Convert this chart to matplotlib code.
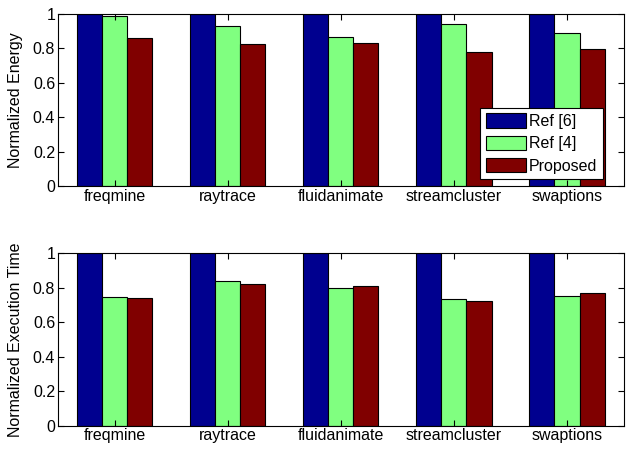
import matplotlib
matplotlib.use("Agg")
import matplotlib.pyplot as plt
import numpy as np

plt.rcParams['font.family'] = ['Liberation Sans', 'DejaVu Sans']

categories = ["freqmine", "raytrace", "fluidanimate", "streamcluster", "swaptions"]
series_names = ["Ref [6]", "Ref [4]", "Proposed"]
energy_ref6 = [1.0, 1.0, 1.0, 1.0, 1.0]
energy_ref4 = [0.99, 0.928, 0.864, 0.94, 0.888]
energy_prop = [0.862, 0.827, 0.833, 0.781, 0.798]
time_ref6 = [1.0, 1.0, 1.0, 1.0, 1.0]
time_ref4 = [0.746, 0.841, 0.801, 0.735, 0.75]
time_prop = [0.743, 0.822, 0.812, 0.721, 0.768]
yticks = [0, 0.2, 0.4, 0.6, 0.8, 1]
ytick_labels = ["0", "0.2", "0.4", "0.6", "0.8", "1"]

colors = [(0, 0, 0.5625), (0.5, 1, 0.5), (0.5, 0, 0)]
FS = 11.5

fig = plt.figure(figsize=(6.34, 4.5), dpi=100)
W, H = 634, 450
ax1 = fig.add_axes([58 / W, 1 - 186 / H, (623.5 - 58) / W, (186 - 14) / H])
ax2 = fig.add_axes([58 / W, 1 - 425.7 / H, (623.5 - 58) / W, (425.7 - 253.3) / H])

x = np.arange(1, len(categories) + 1)
bw = 0.222
offsets = [-bw, 0, bw]

def draw(ax, data, ylabel, legend=False):
    for i, vals in enumerate(data):
        ax.bar(x + offsets[i], vals, width=bw, color=colors[i], edgecolor='black',
               linewidth=0.8, label=series_names[i])
    ax.set_xlim(0.5, 5.5)
    ax.set_ylim(0, 1)
    ax.set_xticks(x)
    ax.set_xticklabels(categories, fontsize=FS)
    ax.set_yticks(yticks)
    ax.set_yticklabels(ytick_labels, fontsize=FS)
    ax.set_ylabel(ylabel, fontsize=FS)
    ax.tick_params(direction='in', top=True, right=True, length=4, width=0.8, pad=2)
    for s in ax.spines.values():
        s.set_linewidth(0.8)
    if legend:
        leg = ax.legend(loc='lower right', bbox_to_anchor=(0.9637, 0.04), fontsize=FS,
                        frameon=True, fancybox=False, edgecolor='black', framealpha=1,
                        handlelength=2.5, handleheight=1.0, handletextpad=0.2,
                        borderpad=0.35, labelspacing=0.42, borderaxespad=0)
        leg.get_frame().set_linewidth(0.8)

draw(ax1, [energy_ref6, energy_ref4, energy_prop], "Normalized Energy", legend=True)
draw(ax2, [time_ref6, time_ref4, time_prop], "Normalized Execution Time")
ax1.yaxis.set_label_coords(-0.062, 0.5)
ax2.yaxis.set_label_coords(-0.062, 0.5)

fig.savefig("out.png", dpi=100)
